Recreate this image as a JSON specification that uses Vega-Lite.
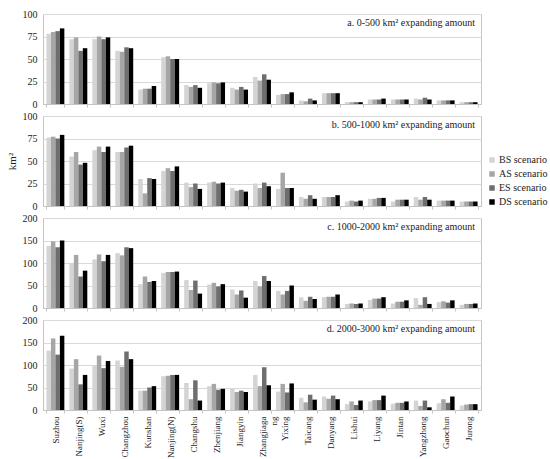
{
  "$schema": "https://vega.github.io/schema/vega-lite/v6.json",
  "padding": {"left": 5, "top": 8, "right": 2, "bottom": 0},
  "data": {
    "values": [
      {"p": "a", "c": "Suzhou", "s": "BS scenario", "v": 78}, {"p": "a", "c": "Suzhou", "s": "AS scenario", "v": 80}, {"p": "a", "c": "Suzhou", "s": "ES scenario", "v": 81}, {"p": "a", "c": "Suzhou", "s": "DS scenario", "v": 84},
      {"p": "a", "c": "Nanjing(S)", "s": "BS scenario", "v": 72}, {"p": "a", "c": "Nanjing(S)", "s": "AS scenario", "v": 74}, {"p": "a", "c": "Nanjing(S)", "s": "ES scenario", "v": 59}, {"p": "a", "c": "Nanjing(S)", "s": "DS scenario", "v": 62},
      {"p": "a", "c": "Wuxi", "s": "BS scenario", "v": 72}, {"p": "a", "c": "Wuxi", "s": "AS scenario", "v": 75}, {"p": "a", "c": "Wuxi", "s": "ES scenario", "v": 72}, {"p": "a", "c": "Wuxi", "s": "DS scenario", "v": 74},
      {"p": "a", "c": "Changzhou", "s": "BS scenario", "v": 59}, {"p": "a", "c": "Changzhou", "s": "AS scenario", "v": 58}, {"p": "a", "c": "Changzhou", "s": "ES scenario", "v": 63}, {"p": "a", "c": "Changzhou", "s": "DS scenario", "v": 62},
      {"p": "a", "c": "Kunshan", "s": "BS scenario", "v": 16}, {"p": "a", "c": "Kunshan", "s": "AS scenario", "v": 17}, {"p": "a", "c": "Kunshan", "s": "ES scenario", "v": 17}, {"p": "a", "c": "Kunshan", "s": "DS scenario", "v": 20},
      {"p": "a", "c": "Nanjing(N)", "s": "BS scenario", "v": 52}, {"p": "a", "c": "Nanjing(N)", "s": "AS scenario", "v": 53}, {"p": "a", "c": "Nanjing(N)", "s": "ES scenario", "v": 50}, {"p": "a", "c": "Nanjing(N)", "s": "DS scenario", "v": 50},
      {"p": "a", "c": "Changshu", "s": "BS scenario", "v": 21}, {"p": "a", "c": "Changshu", "s": "AS scenario", "v": 19}, {"p": "a", "c": "Changshu", "s": "ES scenario", "v": 21}, {"p": "a", "c": "Changshu", "s": "DS scenario", "v": 18},
      {"p": "a", "c": "Zhenjiang", "s": "BS scenario", "v": 23}, {"p": "a", "c": "Zhenjiang", "s": "AS scenario", "v": 24}, {"p": "a", "c": "Zhenjiang", "s": "ES scenario", "v": 23}, {"p": "a", "c": "Zhenjiang", "s": "DS scenario", "v": 24},
      {"p": "a", "c": "Jiangyin", "s": "BS scenario", "v": 18}, {"p": "a", "c": "Jiangyin", "s": "AS scenario", "v": 16}, {"p": "a", "c": "Jiangyin", "s": "ES scenario", "v": 19}, {"p": "a", "c": "Jiangyin", "s": "DS scenario", "v": 16},
      {"p": "a", "c": "Zhangjiagang", "s": "BS scenario", "v": 30}, {"p": "a", "c": "Zhangjiagang", "s": "AS scenario", "v": 26}, {"p": "a", "c": "Zhangjiagang", "s": "ES scenario", "v": 33}, {"p": "a", "c": "Zhangjiagang", "s": "DS scenario", "v": 27},
      {"p": "a", "c": "Yixing", "s": "BS scenario", "v": 10}, {"p": "a", "c": "Yixing", "s": "AS scenario", "v": 11}, {"p": "a", "c": "Yixing", "s": "ES scenario", "v": 11}, {"p": "a", "c": "Yixing", "s": "DS scenario", "v": 13},
      {"p": "a", "c": "Taicang", "s": "BS scenario", "v": 4}, {"p": "a", "c": "Taicang", "s": "AS scenario", "v": 3}, {"p": "a", "c": "Taicang", "s": "ES scenario", "v": 6}, {"p": "a", "c": "Taicang", "s": "DS scenario", "v": 4},
      {"p": "a", "c": "Danyang", "s": "BS scenario", "v": 12}, {"p": "a", "c": "Danyang", "s": "AS scenario", "v": 12}, {"p": "a", "c": "Danyang", "s": "ES scenario", "v": 12}, {"p": "a", "c": "Danyang", "s": "DS scenario", "v": 12},
      {"p": "a", "c": "Lishui", "s": "BS scenario", "v": 2}, {"p": "a", "c": "Lishui", "s": "AS scenario", "v": 2}, {"p": "a", "c": "Lishui", "s": "ES scenario", "v": 2}, {"p": "a", "c": "Lishui", "s": "DS scenario", "v": 2},
      {"p": "a", "c": "Liyang", "s": "BS scenario", "v": 5}, {"p": "a", "c": "Liyang", "s": "AS scenario", "v": 5}, {"p": "a", "c": "Liyang", "s": "ES scenario", "v": 5}, {"p": "a", "c": "Liyang", "s": "DS scenario", "v": 6},
      {"p": "a", "c": "Jintan", "s": "BS scenario", "v": 5}, {"p": "a", "c": "Jintan", "s": "AS scenario", "v": 5}, {"p": "a", "c": "Jintan", "s": "ES scenario", "v": 5}, {"p": "a", "c": "Jintan", "s": "DS scenario", "v": 5},
      {"p": "a", "c": "Yangzhong", "s": "BS scenario", "v": 6}, {"p": "a", "c": "Yangzhong", "s": "AS scenario", "v": 5}, {"p": "a", "c": "Yangzhong", "s": "ES scenario", "v": 7}, {"p": "a", "c": "Yangzhong", "s": "DS scenario", "v": 5},
      {"p": "a", "c": "Gaochun", "s": "BS scenario", "v": 4}, {"p": "a", "c": "Gaochun", "s": "AS scenario", "v": 4}, {"p": "a", "c": "Gaochun", "s": "ES scenario", "v": 4}, {"p": "a", "c": "Gaochun", "s": "DS scenario", "v": 4},
      {"p": "a", "c": "Jurong", "s": "BS scenario", "v": 2}, {"p": "a", "c": "Jurong", "s": "AS scenario", "v": 2}, {"p": "a", "c": "Jurong", "s": "ES scenario", "v": 2}, {"p": "a", "c": "Jurong", "s": "DS scenario", "v": 2},

      {"p": "b", "c": "Suzhou", "s": "BS scenario", "v": 76}, {"p": "b", "c": "Suzhou", "s": "AS scenario", "v": 77}, {"p": "b", "c": "Suzhou", "s": "ES scenario", "v": 75}, {"p": "b", "c": "Suzhou", "s": "DS scenario", "v": 79},
      {"p": "b", "c": "Nanjing(S)", "s": "BS scenario", "v": 55}, {"p": "b", "c": "Nanjing(S)", "s": "AS scenario", "v": 60}, {"p": "b", "c": "Nanjing(S)", "s": "ES scenario", "v": 46}, {"p": "b", "c": "Nanjing(S)", "s": "DS scenario", "v": 48},
      {"p": "b", "c": "Wuxi", "s": "BS scenario", "v": 62}, {"p": "b", "c": "Wuxi", "s": "AS scenario", "v": 66}, {"p": "b", "c": "Wuxi", "s": "ES scenario", "v": 60}, {"p": "b", "c": "Wuxi", "s": "DS scenario", "v": 66},
      {"p": "b", "c": "Changzhou", "s": "BS scenario", "v": 60}, {"p": "b", "c": "Changzhou", "s": "AS scenario", "v": 60}, {"p": "b", "c": "Changzhou", "s": "ES scenario", "v": 65}, {"p": "b", "c": "Changzhou", "s": "DS scenario", "v": 67},
      {"p": "b", "c": "Kunshan", "s": "BS scenario", "v": 30}, {"p": "b", "c": "Kunshan", "s": "AS scenario", "v": 14}, {"p": "b", "c": "Kunshan", "s": "ES scenario", "v": 31}, {"p": "b", "c": "Kunshan", "s": "DS scenario", "v": 30},
      {"p": "b", "c": "Nanjing(N)", "s": "BS scenario", "v": 39}, {"p": "b", "c": "Nanjing(N)", "s": "AS scenario", "v": 42}, {"p": "b", "c": "Nanjing(N)", "s": "ES scenario", "v": 39}, {"p": "b", "c": "Nanjing(N)", "s": "DS scenario", "v": 44},
      {"p": "b", "c": "Changshu", "s": "BS scenario", "v": 26}, {"p": "b", "c": "Changshu", "s": "AS scenario", "v": 21}, {"p": "b", "c": "Changshu", "s": "ES scenario", "v": 25}, {"p": "b", "c": "Changshu", "s": "DS scenario", "v": 19},
      {"p": "b", "c": "Zhenjiang", "s": "BS scenario", "v": 26}, {"p": "b", "c": "Zhenjiang", "s": "AS scenario", "v": 27}, {"p": "b", "c": "Zhenjiang", "s": "ES scenario", "v": 25}, {"p": "b", "c": "Zhenjiang", "s": "DS scenario", "v": 26},
      {"p": "b", "c": "Jiangyin", "s": "BS scenario", "v": 20}, {"p": "b", "c": "Jiangyin", "s": "AS scenario", "v": 17}, {"p": "b", "c": "Jiangyin", "s": "ES scenario", "v": 18}, {"p": "b", "c": "Jiangyin", "s": "DS scenario", "v": 16},
      {"p": "b", "c": "Zhangjiagang", "s": "BS scenario", "v": 25}, {"p": "b", "c": "Zhangjiagang", "s": "AS scenario", "v": 20}, {"p": "b", "c": "Zhangjiagang", "s": "ES scenario", "v": 26}, {"p": "b", "c": "Zhangjiagang", "s": "DS scenario", "v": 22},
      {"p": "b", "c": "Yixing", "s": "BS scenario", "v": 19}, {"p": "b", "c": "Yixing", "s": "AS scenario", "v": 37}, {"p": "b", "c": "Yixing", "s": "ES scenario", "v": 20}, {"p": "b", "c": "Yixing", "s": "DS scenario", "v": 20},
      {"p": "b", "c": "Taicang", "s": "BS scenario", "v": 10}, {"p": "b", "c": "Taicang", "s": "AS scenario", "v": 8}, {"p": "b", "c": "Taicang", "s": "ES scenario", "v": 12}, {"p": "b", "c": "Taicang", "s": "DS scenario", "v": 8},
      {"p": "b", "c": "Danyang", "s": "BS scenario", "v": 10}, {"p": "b", "c": "Danyang", "s": "AS scenario", "v": 10}, {"p": "b", "c": "Danyang", "s": "ES scenario", "v": 10}, {"p": "b", "c": "Danyang", "s": "DS scenario", "v": 12},
      {"p": "b", "c": "Lishui", "s": "BS scenario", "v": 5}, {"p": "b", "c": "Lishui", "s": "AS scenario", "v": 6}, {"p": "b", "c": "Lishui", "s": "ES scenario", "v": 5}, {"p": "b", "c": "Lishui", "s": "DS scenario", "v": 6},
      {"p": "b", "c": "Liyang", "s": "BS scenario", "v": 8}, {"p": "b", "c": "Liyang", "s": "AS scenario", "v": 8}, {"p": "b", "c": "Liyang", "s": "ES scenario", "v": 9}, {"p": "b", "c": "Liyang", "s": "DS scenario", "v": 9},
      {"p": "b", "c": "Jintan", "s": "BS scenario", "v": 5}, {"p": "b", "c": "Jintan", "s": "AS scenario", "v": 7}, {"p": "b", "c": "Jintan", "s": "ES scenario", "v": 7}, {"p": "b", "c": "Jintan", "s": "DS scenario", "v": 7},
      {"p": "b", "c": "Yangzhong", "s": "BS scenario", "v": 10}, {"p": "b", "c": "Yangzhong", "s": "AS scenario", "v": 7}, {"p": "b", "c": "Yangzhong", "s": "ES scenario", "v": 10}, {"p": "b", "c": "Yangzhong", "s": "DS scenario", "v": 7},
      {"p": "b", "c": "Gaochun", "s": "BS scenario", "v": 6}, {"p": "b", "c": "Gaochun", "s": "AS scenario", "v": 6}, {"p": "b", "c": "Gaochun", "s": "ES scenario", "v": 6}, {"p": "b", "c": "Gaochun", "s": "DS scenario", "v": 6},
      {"p": "b", "c": "Jurong", "s": "BS scenario", "v": 5}, {"p": "b", "c": "Jurong", "s": "AS scenario", "v": 5}, {"p": "b", "c": "Jurong", "s": "ES scenario", "v": 5}, {"p": "b", "c": "Jurong", "s": "DS scenario", "v": 5},

      {"p": "c", "c": "Suzhou", "s": "BS scenario", "v": 138}, {"p": "c", "c": "Suzhou", "s": "AS scenario", "v": 148}, {"p": "c", "c": "Suzhou", "s": "ES scenario", "v": 135}, {"p": "c", "c": "Suzhou", "s": "DS scenario", "v": 150},
      {"p": "c", "c": "Nanjing(S)", "s": "BS scenario", "v": 100}, {"p": "c", "c": "Nanjing(S)", "s": "AS scenario", "v": 118}, {"p": "c", "c": "Nanjing(S)", "s": "ES scenario", "v": 70}, {"p": "c", "c": "Nanjing(S)", "s": "DS scenario", "v": 83},
      {"p": "c", "c": "Wuxi", "s": "BS scenario", "v": 108}, {"p": "c", "c": "Wuxi", "s": "AS scenario", "v": 119}, {"p": "c", "c": "Wuxi", "s": "ES scenario", "v": 104}, {"p": "c", "c": "Wuxi", "s": "DS scenario", "v": 118},
      {"p": "c", "c": "Changzhou", "s": "BS scenario", "v": 122}, {"p": "c", "c": "Changzhou", "s": "AS scenario", "v": 117}, {"p": "c", "c": "Changzhou", "s": "ES scenario", "v": 135}, {"p": "c", "c": "Changzhou", "s": "DS scenario", "v": 133},
      {"p": "c", "c": "Kunshan", "s": "BS scenario", "v": 53}, {"p": "c", "c": "Kunshan", "s": "AS scenario", "v": 70}, {"p": "c", "c": "Kunshan", "s": "ES scenario", "v": 58}, {"p": "c", "c": "Kunshan", "s": "DS scenario", "v": 60},
      {"p": "c", "c": "Nanjing(N)", "s": "BS scenario", "v": 78}, {"p": "c", "c": "Nanjing(N)", "s": "AS scenario", "v": 80}, {"p": "c", "c": "Nanjing(N)", "s": "ES scenario", "v": 80}, {"p": "c", "c": "Nanjing(N)", "s": "DS scenario", "v": 81},
      {"p": "c", "c": "Changshu", "s": "BS scenario", "v": 62}, {"p": "c", "c": "Changshu", "s": "AS scenario", "v": 40}, {"p": "c", "c": "Changshu", "s": "ES scenario", "v": 61}, {"p": "c", "c": "Changshu", "s": "DS scenario", "v": 32},
      {"p": "c", "c": "Zhenjiang", "s": "BS scenario", "v": 52}, {"p": "c", "c": "Zhenjiang", "s": "AS scenario", "v": 56}, {"p": "c", "c": "Zhenjiang", "s": "ES scenario", "v": 48}, {"p": "c", "c": "Zhenjiang", "s": "DS scenario", "v": 53},
      {"p": "c", "c": "Jiangyin", "s": "BS scenario", "v": 41}, {"p": "c", "c": "Jiangyin", "s": "AS scenario", "v": 30}, {"p": "c", "c": "Jiangyin", "s": "ES scenario", "v": 39}, {"p": "c", "c": "Jiangyin", "s": "DS scenario", "v": 23},
      {"p": "c", "c": "Zhangjiagang", "s": "BS scenario", "v": 60}, {"p": "c", "c": "Zhangjiagang", "s": "AS scenario", "v": 48}, {"p": "c", "c": "Zhangjiagang", "s": "ES scenario", "v": 71}, {"p": "c", "c": "Zhangjiagang", "s": "DS scenario", "v": 60},
      {"p": "c", "c": "Yixing", "s": "BS scenario", "v": 38}, {"p": "c", "c": "Yixing", "s": "AS scenario", "v": 30}, {"p": "c", "c": "Yixing", "s": "ES scenario", "v": 38}, {"p": "c", "c": "Yixing", "s": "DS scenario", "v": 50},
      {"p": "c", "c": "Taicang", "s": "BS scenario", "v": 24}, {"p": "c", "c": "Taicang", "s": "AS scenario", "v": 16}, {"p": "c", "c": "Taicang", "s": "ES scenario", "v": 25}, {"p": "c", "c": "Taicang", "s": "DS scenario", "v": 20},
      {"p": "c", "c": "Danyang", "s": "BS scenario", "v": 24}, {"p": "c", "c": "Danyang", "s": "AS scenario", "v": 25}, {"p": "c", "c": "Danyang", "s": "ES scenario", "v": 25}, {"p": "c", "c": "Danyang", "s": "DS scenario", "v": 30},
      {"p": "c", "c": "Lishui", "s": "BS scenario", "v": 9}, {"p": "c", "c": "Lishui", "s": "AS scenario", "v": 10}, {"p": "c", "c": "Lishui", "s": "ES scenario", "v": 9}, {"p": "c", "c": "Lishui", "s": "DS scenario", "v": 10},
      {"p": "c", "c": "Liyang", "s": "BS scenario", "v": 18}, {"p": "c", "c": "Liyang", "s": "AS scenario", "v": 21}, {"p": "c", "c": "Liyang", "s": "ES scenario", "v": 21}, {"p": "c", "c": "Liyang", "s": "DS scenario", "v": 24},
      {"p": "c", "c": "Jintan", "s": "BS scenario", "v": 10}, {"p": "c", "c": "Jintan", "s": "AS scenario", "v": 14}, {"p": "c", "c": "Jintan", "s": "ES scenario", "v": 14}, {"p": "c", "c": "Jintan", "s": "DS scenario", "v": 17},
      {"p": "c", "c": "Yangzhong", "s": "BS scenario", "v": 22}, {"p": "c", "c": "Yangzhong", "s": "AS scenario", "v": 7}, {"p": "c", "c": "Yangzhong", "s": "ES scenario", "v": 24}, {"p": "c", "c": "Yangzhong", "s": "DS scenario", "v": 9},
      {"p": "c", "c": "Gaochun", "s": "BS scenario", "v": 13}, {"p": "c", "c": "Gaochun", "s": "AS scenario", "v": 15}, {"p": "c", "c": "Gaochun", "s": "ES scenario", "v": 12}, {"p": "c", "c": "Gaochun", "s": "DS scenario", "v": 17},
      {"p": "c", "c": "Jurong", "s": "BS scenario", "v": 7}, {"p": "c", "c": "Jurong", "s": "AS scenario", "v": 9}, {"p": "c", "c": "Jurong", "s": "ES scenario", "v": 9}, {"p": "c", "c": "Jurong", "s": "DS scenario", "v": 10},

      {"p": "d", "c": "Suzhou", "s": "BS scenario", "v": 132}, {"p": "d", "c": "Suzhou", "s": "AS scenario", "v": 159}, {"p": "d", "c": "Suzhou", "s": "ES scenario", "v": 123}, {"p": "d", "c": "Suzhou", "s": "DS scenario", "v": 165},
      {"p": "d", "c": "Nanjing(S)", "s": "BS scenario", "v": 92}, {"p": "d", "c": "Nanjing(S)", "s": "AS scenario", "v": 113}, {"p": "d", "c": "Nanjing(S)", "s": "ES scenario", "v": 57}, {"p": "d", "c": "Nanjing(S)", "s": "DS scenario", "v": 78},
      {"p": "d", "c": "Wuxi", "s": "BS scenario", "v": 100}, {"p": "d", "c": "Wuxi", "s": "AS scenario", "v": 121}, {"p": "d", "c": "Wuxi", "s": "ES scenario", "v": 93}, {"p": "d", "c": "Wuxi", "s": "DS scenario", "v": 109},
      {"p": "d", "c": "Changzhou", "s": "BS scenario", "v": 110}, {"p": "d", "c": "Changzhou", "s": "AS scenario", "v": 96}, {"p": "d", "c": "Changzhou", "s": "ES scenario", "v": 130}, {"p": "d", "c": "Changzhou", "s": "DS scenario", "v": 113},
      {"p": "d", "c": "Kunshan", "s": "BS scenario", "v": 43}, {"p": "d", "c": "Kunshan", "s": "AS scenario", "v": 43}, {"p": "d", "c": "Kunshan", "s": "ES scenario", "v": 50}, {"p": "d", "c": "Kunshan", "s": "DS scenario", "v": 53},
      {"p": "d", "c": "Nanjing(N)", "s": "BS scenario", "v": 75}, {"p": "d", "c": "Nanjing(N)", "s": "AS scenario", "v": 76}, {"p": "d", "c": "Nanjing(N)", "s": "ES scenario", "v": 78}, {"p": "d", "c": "Nanjing(N)", "s": "DS scenario", "v": 78},
      {"p": "d", "c": "Changshu", "s": "BS scenario", "v": 60}, {"p": "d", "c": "Changshu", "s": "AS scenario", "v": 24}, {"p": "d", "c": "Changshu", "s": "ES scenario", "v": 66}, {"p": "d", "c": "Changshu", "s": "DS scenario", "v": 21},
      {"p": "d", "c": "Zhenjiang", "s": "BS scenario", "v": 53}, {"p": "d", "c": "Zhenjiang", "s": "AS scenario", "v": 58}, {"p": "d", "c": "Zhenjiang", "s": "ES scenario", "v": 45}, {"p": "d", "c": "Zhenjiang", "s": "DS scenario", "v": 47},
      {"p": "d", "c": "Jiangyin", "s": "BS scenario", "v": 47}, {"p": "d", "c": "Jiangyin", "s": "AS scenario", "v": 40}, {"p": "d", "c": "Jiangyin", "s": "ES scenario", "v": 43}, {"p": "d", "c": "Jiangyin", "s": "DS scenario", "v": 40},
      {"p": "d", "c": "Zhangjiagang", "s": "BS scenario", "v": 78}, {"p": "d", "c": "Zhangjiagang", "s": "AS scenario", "v": 53}, {"p": "d", "c": "Zhangjiagang", "s": "ES scenario", "v": 95}, {"p": "d", "c": "Zhangjiagang", "s": "DS scenario", "v": 55},
      {"p": "d", "c": "Yixing", "s": "BS scenario", "v": 41}, {"p": "d", "c": "Yixing", "s": "AS scenario", "v": 58}, {"p": "d", "c": "Yixing", "s": "ES scenario", "v": 39}, {"p": "d", "c": "Yixing", "s": "DS scenario", "v": 59},
      {"p": "d", "c": "Taicang", "s": "BS scenario", "v": 27}, {"p": "d", "c": "Taicang", "s": "AS scenario", "v": 17}, {"p": "d", "c": "Taicang", "s": "ES scenario", "v": 34}, {"p": "d", "c": "Taicang", "s": "DS scenario", "v": 23},
      {"p": "d", "c": "Danyang", "s": "BS scenario", "v": 30}, {"p": "d", "c": "Danyang", "s": "AS scenario", "v": 25}, {"p": "d", "c": "Danyang", "s": "ES scenario", "v": 32}, {"p": "d", "c": "Danyang", "s": "DS scenario", "v": 24},
      {"p": "d", "c": "Lishui", "s": "BS scenario", "v": 13}, {"p": "d", "c": "Lishui", "s": "AS scenario", "v": 19}, {"p": "d", "c": "Lishui", "s": "ES scenario", "v": 11}, {"p": "d", "c": "Lishui", "s": "DS scenario", "v": 21},
      {"p": "d", "c": "Liyang", "s": "BS scenario", "v": 19}, {"p": "d", "c": "Liyang", "s": "AS scenario", "v": 22}, {"p": "d", "c": "Liyang", "s": "ES scenario", "v": 22}, {"p": "d", "c": "Liyang", "s": "DS scenario", "v": 32},
      {"p": "d", "c": "Jintan", "s": "BS scenario", "v": 14}, {"p": "d", "c": "Jintan", "s": "AS scenario", "v": 16}, {"p": "d", "c": "Jintan", "s": "ES scenario", "v": 16}, {"p": "d", "c": "Jintan", "s": "DS scenario", "v": 19},
      {"p": "d", "c": "Yangzhong", "s": "BS scenario", "v": 21}, {"p": "d", "c": "Yangzhong", "s": "AS scenario", "v": 9}, {"p": "d", "c": "Yangzhong", "s": "ES scenario", "v": 21}, {"p": "d", "c": "Yangzhong", "s": "DS scenario", "v": 6},
      {"p": "d", "c": "Gaochun", "s": "BS scenario", "v": 15}, {"p": "d", "c": "Gaochun", "s": "AS scenario", "v": 24}, {"p": "d", "c": "Gaochun", "s": "ES scenario", "v": 16}, {"p": "d", "c": "Gaochun", "s": "DS scenario", "v": 30},
      {"p": "d", "c": "Jurong", "s": "BS scenario", "v": 10}, {"p": "d", "c": "Jurong", "s": "AS scenario", "v": 12}, {"p": "d", "c": "Jurong", "s": "ES scenario", "v": 13}, {"p": "d", "c": "Jurong", "s": "DS scenario", "v": 13}
    ]
  },
  "config": {
    "font": "Liberation Serif",
    "view": {"stroke": "#c4c4c4"},
    "axis": {
      "labelFont": "Liberation Serif",
      "labelFontSize": 10,
      "labelColor": "#222",
      "titleFont": "Liberation Serif",
      "titleFontSize": 11,
      "titleFontWeight": "normal",
      "titleColor": "#222",
      "domainColor": "#c4c4c4",
      "tickColor": "#c4c4c4",
      "gridColor": "#d9d9d9"
    },
    "axisY": {"ticks": false, "domain": false, "labelPadding": 6, "titlePadding": 5},
    "axisX": {"tickSize": 3, "tickBand": "extent", "grid": false},
    "title": {"font": "Liberation Serif", "fontSize": 10, "fontWeight": "normal", "color": "#222", "anchor": "end", "frame": "group", "offset": -19, "dx": -6}
  },
  "bounds": "flush",
  "spacing": 12,
  "resolve": {"scale": {"y": "independent"}, "legend": {"color": "independent"}},
  "vconcat": [
    {
      "width": 438, "height": 90,
      "title": "a. 0-500 km² expanding amount",
      "transform": [{"filter": "datum.p == 'a'"}],
      "mark": "bar",
      "encoding": {
        "x": {"field": "c", "type": "nominal", "sort": ["Suzhou", "Nanjing(S)", "Wuxi", "Changzhou", "Kunshan", "Nanjing(N)", "Changshu", "Zhenjiang", "Jiangyin", "Zhangjiagang", "Yixing", "Taicang", "Danyang", "Lishui", "Liyang", "Jintan", "Yangzhong", "Gaochun", "Jurong"], "scale": {"paddingInner": 0.22, "paddingOuter": 0.15}, "axis": {"labels": false, "title": null}},
        "xOffset": {"field": "s", "type": "nominal", "sort": ["BS scenario", "AS scenario", "ES scenario", "DS scenario"]},
        "y": {"field": "v", "type": "quantitative", "scale": {"domain": [0, 100]}, "axis": {"values": [0, 25, 50, 75, 100], "title": null}},
        "color": {"field": "s", "type": "nominal", "scale": {"domain": ["BS scenario", "AS scenario", "ES scenario", "DS scenario"], "range": ["#d4d4d4", "#a6a6a6", "#6e6e6e", "#000000"]}, "legend": null}
      }
    },
    {
      "width": 438, "height": 90,
      "title": "b. 500-1000 km² expanding amount",
      "transform": [{"filter": "datum.p == 'b'"}],
      "mark": "bar",
      "encoding": {
        "x": {"field": "c", "type": "nominal", "sort": ["Suzhou", "Nanjing(S)", "Wuxi", "Changzhou", "Kunshan", "Nanjing(N)", "Changshu", "Zhenjiang", "Jiangyin", "Zhangjiagang", "Yixing", "Taicang", "Danyang", "Lishui", "Liyang", "Jintan", "Yangzhong", "Gaochun", "Jurong"], "scale": {"paddingInner": 0.22, "paddingOuter": 0.15}, "axis": {"labels": false, "title": null}},
        "xOffset": {"field": "s", "type": "nominal", "sort": ["BS scenario", "AS scenario", "ES scenario", "DS scenario"]},
        "y": {"field": "v", "type": "quantitative", "scale": {"domain": [0, 100]}, "axis": {"values": [0, 25, 50, 75, 100], "title": "km²"}},
        "color": {"field": "s", "type": "nominal", "scale": {"domain": ["BS scenario", "AS scenario", "ES scenario", "DS scenario"], "range": ["#d4d4d4", "#a6a6a6", "#6e6e6e", "#000000"]},
          "legend": {"orient": "none", "legendX": 444, "legendY": 39, "title": null, "symbolType": "square", "symbolSize": 30, "symbolStrokeWidth": 0, "labelFont": "Liberation Serif", "labelFontSize": 10, "labelColor": "#222", "rowPadding": 4, "labelOffset": 2}}
      }
    },
    {
      "width": 438, "height": 90,
      "title": "c. 1000-2000 km² expanding amount",
      "transform": [{"filter": "datum.p == 'c'"}],
      "mark": "bar",
      "encoding": {
        "x": {"field": "c", "type": "nominal", "sort": ["Suzhou", "Nanjing(S)", "Wuxi", "Changzhou", "Kunshan", "Nanjing(N)", "Changshu", "Zhenjiang", "Jiangyin", "Zhangjiagang", "Yixing", "Taicang", "Danyang", "Lishui", "Liyang", "Jintan", "Yangzhong", "Gaochun", "Jurong"], "scale": {"paddingInner": 0.22, "paddingOuter": 0.15}, "axis": {"labels": false, "title": null}},
        "xOffset": {"field": "s", "type": "nominal", "sort": ["BS scenario", "AS scenario", "ES scenario", "DS scenario"]},
        "y": {"field": "v", "type": "quantitative", "scale": {"domain": [0, 200]}, "axis": {"values": [0, 50, 100, 150, 200], "title": null}},
        "color": {"field": "s", "type": "nominal", "scale": {"domain": ["BS scenario", "AS scenario", "ES scenario", "DS scenario"], "range": ["#d4d4d4", "#a6a6a6", "#6e6e6e", "#000000"]}, "legend": null}
      }
    },
    {
      "width": 438, "height": 90,
      "title": "d. 2000-3000 km² expanding amount",
      "transform": [{"filter": "datum.p == 'd'"}],
      "mark": "bar",
      "encoding": {
        "x": {"field": "c", "type": "nominal", "sort": ["Suzhou", "Nanjing(S)", "Wuxi", "Changzhou", "Kunshan", "Nanjing(N)", "Changshu", "Zhenjiang", "Jiangyin", "Zhangjiagang", "Yixing", "Taicang", "Danyang", "Lishui", "Liyang", "Jintan", "Yangzhong", "Gaochun", "Jurong"], "scale": {"paddingInner": 0.22, "paddingOuter": 0.15},
          "axis": {"title": null, "labelAngle": -90, "labelPadding": 3, "labelFontSize": 9, "labelExpr": "datum.value == 'Zhangjiagang' ? ['Zhangjiaga', 'ng'] : datum.value"}},
        "xOffset": {"field": "s", "type": "nominal", "sort": ["BS scenario", "AS scenario", "ES scenario", "DS scenario"]},
        "y": {"field": "v", "type": "quantitative", "scale": {"domain": [0, 200]}, "axis": {"values": [0, 50, 100, 150, 200], "title": null}},
        "color": {"field": "s", "type": "nominal", "scale": {"domain": ["BS scenario", "AS scenario", "ES scenario", "DS scenario"], "range": ["#d4d4d4", "#a6a6a6", "#6e6e6e", "#000000"]}, "legend": null}
      }
    }
  ]
}
